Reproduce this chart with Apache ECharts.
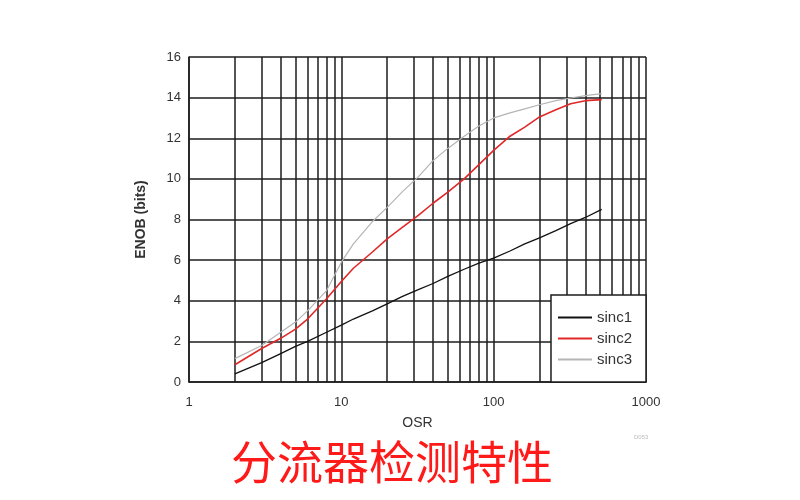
<!DOCTYPE html>
<html>
<head>
<meta charset="utf-8">
<script src="https://cdn.jsdelivr.net/npm/echarts@6/dist/echarts.min.js"></script>
<style>html,body{margin:0;padding:0;background:#fff;}#c{width:800px;height:500px;}</style>
</head>
<body>
<div id="c"></div>
<script>
const osr = [2,3,4,5,6,8,10,12,16,20,25,32,40,50,64,80,100,128,160,200,256,320,400,512];
const sinc1 = [0.4,0.95,1.4,1.75,2.0,2.45,2.8,3.1,3.5,3.85,4.2,4.55,4.85,5.2,5.55,5.85,6.1,6.45,6.8,7.1,7.45,7.8,8.1,8.5];
const sinc2 = [0.85,1.65,2.15,2.6,3.1,4.1,4.95,5.6,6.4,7.05,7.6,8.2,8.8,9.35,10.0,10.7,11.4,12.1,12.55,13.05,13.4,13.7,13.85,13.9];
const sinc3 = [1.15,1.8,2.45,2.95,3.5,4.5,5.9,6.8,7.9,8.6,9.35,10.1,10.9,11.5,12.1,12.6,13.0,13.25,13.45,13.65,13.85,13.98,14.1,14.2];
const minorGrid = [2,3,4,5,6,7,8,9,20,30,40,50,60,70,80,90,200,300,400,500,600,700,800,900];
const seriesNames = ['sinc1','sinc2','sinc3'];

const pairs = v => osr.map((x,i)=>[x,v[i]]);
const gridColor = '#1c1c1c';

const chart = echarts.init(document.getElementById('c'), null, {renderer:'canvas'});
chart.setOption({
  animation:false,
  backgroundColor:'#fff',
  title:{
    text:'分流器检测特性',
    left:226, top:434,
    textStyle:{fontFamily:'Noto Sans CJK SC', fontSize:46, fontWeight:'normal', color:'#ff1a1a'}
  },
  graphic:[{type:'text', left:634, top:434, style:{text:'D053', fontSize:6, fill:'#bbb', fontFamily:'Liberation Sans'}}],
  grid:{left:189, top:57, width:457, height:325, containLabel:false},
  xAxis:{
    type:'log', logBase:10, min:1, max:1000,
    name:'OSR', nameLocation:'middle', nameGap:34,
    nameTextStyle:{fontFamily:'Liberation Sans', fontSize:14, color:'#333'},
    axisLine:{show:true, lineStyle:{color:gridColor, width:1.5}},
    axisTick:{show:false},
    axisLabel:{fontFamily:'Liberation Sans', fontSize:13, color:'#333', margin:14, formatter:v=>String(v)},
    splitLine:{show:true, lineStyle:{color:gridColor, width:1.5}},
    minorTick:{show:false}, minorSplitLine:{show:false}
  },
  yAxis:{
    type:'value', min:0, max:16, interval:2,
    name:'ENOB (bits)', nameLocation:'middle', nameGap:41,
    nameTextStyle:{fontFamily:'Liberation Sans', fontSize:14, fontWeight:'bold', color:'#333'},
    axisLine:{show:true, lineStyle:{color:gridColor, width:1.5}},
    axisTick:{show:false},
    axisLabel:{fontFamily:'Liberation Sans', fontSize:13, color:'#333', margin:8},
    splitLine:{show:true, lineStyle:{color:gridColor, width:1.5}}
  },
  legend:{
    data:seriesNames, z:100,
    orient:'vertical', right:154, bottom:118,
    backgroundColor:'#ffffff', borderColor:gridColor, borderWidth:1.5, borderRadius:0,
    padding:[15,14,15,7], itemGap:6,
    icon:'rect', itemWidth:34, itemHeight:2,
    textStyle:{fontFamily:'Liberation Sans', fontSize:15, color:'#333'}
  },
  series:[
    {name:'gridlines', type:'line', data:[], silent:true, z:1,
     markLine:{silent:true, symbol:['none','none'], label:{show:false},
       lineStyle:{type:'solid', color:gridColor, width:1.5},
       data:minorGrid.map(v=>({xAxis:v}))}},
    {name:'sinc1', type:'line', data:pairs(sinc1), showSymbol:false, z:5,
     itemStyle:{color:'#111'}, lineStyle:{color:'#111', width:1.3}},
    {name:'sinc2', type:'line', data:pairs(sinc2), showSymbol:false, z:5,
     itemStyle:{color:'#e02828'}, lineStyle:{color:'#e02828', width:1.6}},
    {name:'sinc3', type:'line', data:pairs(sinc3), showSymbol:false, z:5,
     itemStyle:{color:'#b5b5b5'}, lineStyle:{color:'#b5b5b5', width:1.2}}
  ]
});
</script>
</body>
</html>
